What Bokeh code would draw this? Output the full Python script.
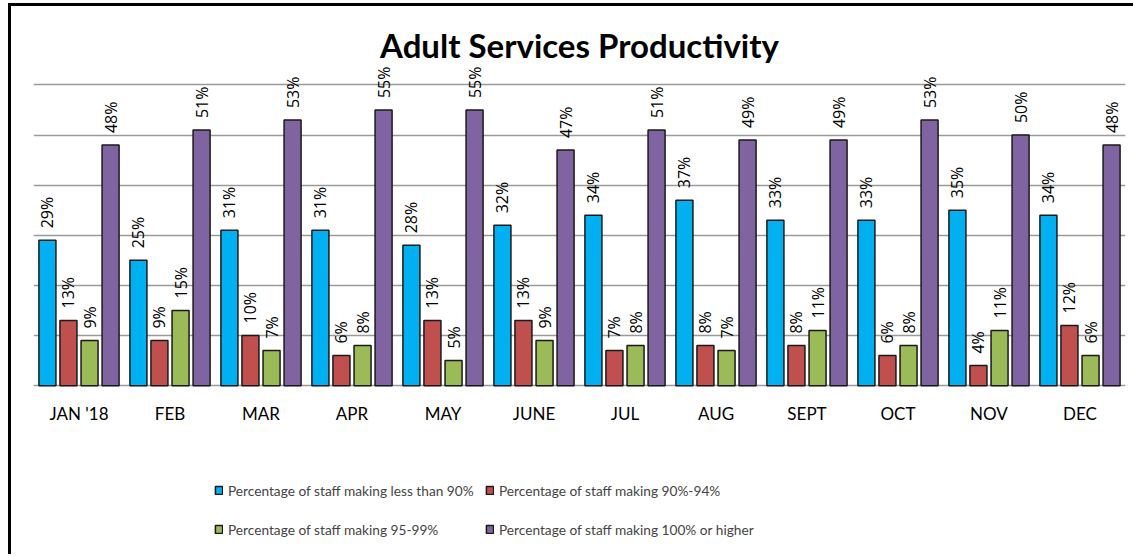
from math import pi
from bokeh.plotting import figure
from bokeh.models import (ColumnDataSource, FactorRange, Range1d, FixedTicker,
                          Legend, LegendItem, Label)
from bokeh.transform import dodge
from bokeh.core.properties import value
from bokeh.embed import file_html
from bokeh.resources import INLINE

# ---- data ----
months = ["JAN '18", "FEB", "MAR", "APR", "MAY", "JUNE", "JUL", "AUG", "SEPT", "OCT", "NOV", "DEC"]
less_than_90 = [29, 25, 31, 31, 28, 32, 34, 37, 33, 33, 35, 34]
pct_90_94 = [13, 9, 10, 6, 13, 13, 7, 8, 8, 6, 4, 12]
pct_95_99 = [9, 15, 7, 8, 5, 9, 8, 7, 11, 8, 11, 6]
pct_100_plus = [48, 51, 53, 55, 55, 47, 51, 49, 49, 53, 50, 48]
series_names = ["Percentage of staff making less than 90%",
                "Percentage of staff making 90%-94%",
                "Percentage of staff making 95-99%",
                "Percentage of staff making 100% or higher"]
grid_ticks = [0, 10, 20, 30, 40, 50, 60]
title_text = "Adult Services Productivity"

colors = ["#00B0F0", "#C0504D", "#9BBB59", "#8064A2"]
offsets = [-0.347, -0.116, 0.116, 0.347]
cols = ["s0", "s1", "s2", "s3"]
series = [less_than_90, pct_90_94, pct_95_99, pct_100_plus]

data = {"month": months}
for c, vals in zip(cols, series):
    data[c] = vals
    data[c + "_lbl"] = [f"{v}%" for v in vals]
source = ColumnDataSource(data)

FONT = "Lato"

p = figure(width=1122, height=548, x_range=FactorRange(*months),
           y_range=Range1d(-34.3, 75.66), output_backend="svg",
           toolbar_location=None, title=None,
           min_border_top=0, min_border_left=22, min_border_right=11,
           min_border_bottom=0)
p.styles = {"margin-left": "8px", "margin-top": "3px",
            "box-sizing": "content-box",
            "border-top": "3px solid black", "border-left": "3px solid black",
            "border-right": "0px none", "border-bottom": "0px none"}

renderers = []
for c, col, off in zip(cols, colors, offsets):
    r = p.vbar(x=dodge("month", off, range=p.x_range), top=c, width=0.187,
               source=source, fill_color=col, line_color="#1a1a1a", line_width=1.5)
    p.text(x=dodge("month", off, range=p.x_range), y=c, text=c + "_lbl",
           source=source, angle=pi / 2, text_align="left", text_baseline="middle",
           y_offset=-12, text_font=value("Open Sans"), text_font_size="16px",
           text_color="#000000")
    renderers.append(r)

p.ygrid.ticker = FixedTicker(ticks=grid_ticks)
p.ygrid.grid_line_color = "#9a9a9a"
p.ygrid.grid_line_width = 1.5
p.xgrid.visible = False
p.yaxis.visible = False
p.outline_line_color = None

p.xaxis.fixed_location = 0
p.xaxis.axis_line_color = None
p.xaxis.major_tick_line_color = None
p.xaxis.minor_tick_line_color = None
p.xaxis.major_tick_out = 0
p.xaxis.major_tick_in = 0
p.xaxis.major_label_standoff = 17
p.xaxis.major_label_text_font = FONT
p.xaxis.major_label_text_font_size = "17px"
p.xaxis.major_label_text_color = "#000000"

p.add_layout(Label(x=6, y=68.0, text=title_text, text_align="center",
                   text_baseline="alphabetic", text_font=FONT,
                   text_font_style="bold", text_font_size="33px",
                   text_color="#000000"))

legend_cols = [[0, 2], [1, 3]]
legend_x = [181, 452]
for idxs, lx in zip(legend_cols, legend_x):
    lg = Legend(items=[LegendItem(label=series_names[i], renderers=[renderers[i]]) for i in idxs],
                location=(lx, 18), orientation="vertical",
                padding=0, margin=0, spacing=19, label_standoff=5,
                glyph_width=9, glyph_height=10, label_height=20,
                label_text_font=FONT, label_text_font_size="13.7px",
                border_line_color=None, background_fill_alpha=0)
    p.add_layout(lg, "center")

open("out.html", "w").write(file_html(p, INLINE))
